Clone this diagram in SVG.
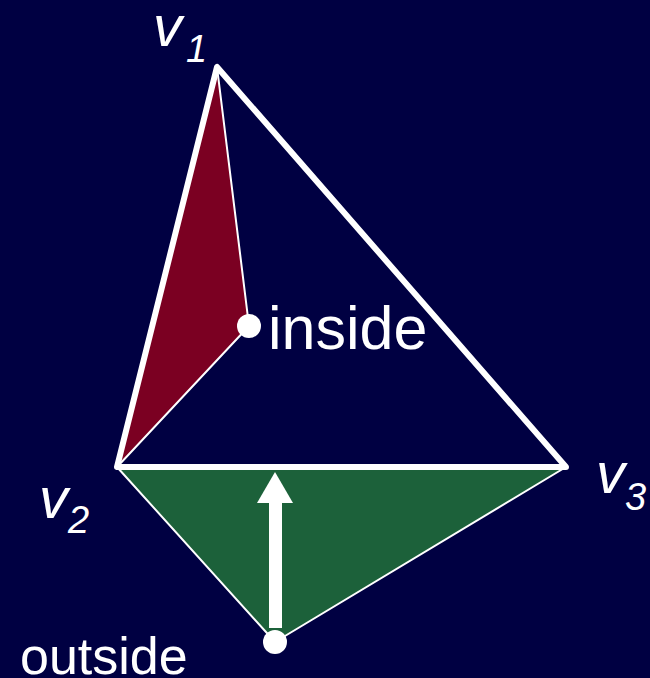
<svg xmlns="http://www.w3.org/2000/svg" width="650" height="678" viewBox="0 0 650 678">
<style>
.lbl{font-family:"Liberation Sans",Arial,sans-serif;fill:#fff}
.v{font-style:italic;font-size:58px}
.sub{font-style:italic;font-size:38px}
.thin{stroke:#fff;stroke-width:2;fill:none}
</style>
<rect width="650" height="678" fill="#000042"/>
<g id="region-inside">
<polygon points="217,67 117,467 249,326" fill="#7b0022" stroke="#fff" stroke-width="2" stroke-linejoin="round"/>
</g>
<g id="region-outside">
<polygon points="117,467 566,467 275,642" fill="#1c613a" stroke="#fff" stroke-width="2" stroke-linejoin="round"/>
</g>
<g id="connectors">
<polygon points="217,67 117,467 566,467" fill="none" stroke="#fff" stroke-width="6" stroke-linejoin="round"/>
<rect x="269" y="502" width="13" height="126" fill="#fff"/>
<polygon points="275,472 257,503 293,503" fill="#fff"/>
</g>
<g id="point-inside">
<circle cx="249" cy="326" r="12" fill="#fff"/>
<text class="lbl" x="268" y="349" font-size="61">inside</text>
</g>
<g id="point-outside">
<circle cx="275" cy="642" r="12" fill="#fff"/>
<text class="lbl" x="20" y="674" font-size="52">outside</text>
</g>
<g id="v1">
<text class="lbl v" x="153" y="46">v</text>
<text class="lbl sub" x="186" y="62">1</text>
</g>
<g id="v2">
<text class="lbl v" x="39" y="518">v</text>
<text class="lbl sub" x="68" y="533">2</text>
</g>
<g id="v3">
<text class="lbl v" x="596" y="493">v</text>
<text class="lbl sub" x="625" y="510">3</text>
</g>
</svg>
